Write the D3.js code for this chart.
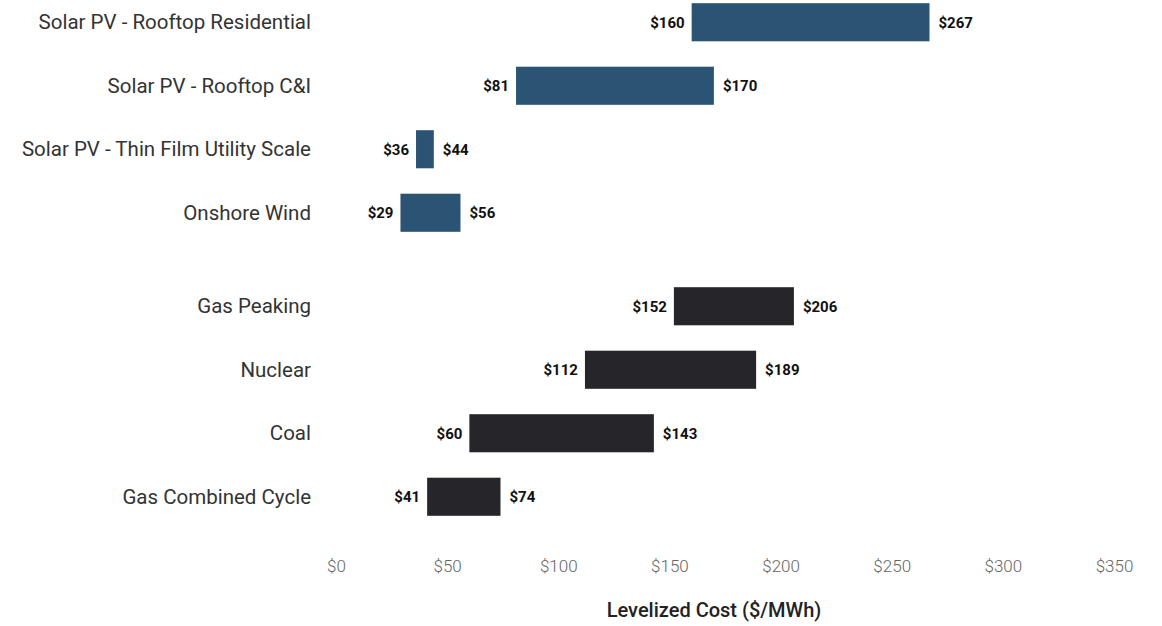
<!DOCTYPE html>
<html>
<head>
<meta charset="utf-8">
<script src="https://cdn.jsdelivr.net/npm/d3@7"></script>
<style>
  body { margin: 0; background: #fff; }
  svg { display: block; }
</style>
</head>
<body>
<script>
// levelized cost ranges, $/MWh
const categories = [
  "Solar PV - Rooftop Residential",
  "Solar PV - Rooftop C&I",
  "Solar PV - Thin Film Utility Scale",
  "Onshore Wind",
  "Gas Peaking",
  "Nuclear",
  "Coal",
  "Gas Combined Cycle"
];
const lowValues = [160, 81, 36, 29, 152, 112, 60, 41];
const highValues = [267, 170, 44, 56, 206, 189, 143, 74];
const groups = ["renewable", "renewable", "renewable", "renewable",
  "conventional", "conventional", "conventional", "conventional"];
const tickValues = [0, 50, 100, 150, 200, 250, 300, 350];

const width = 1162;
const height = 626;
const colors = { renewable: "#2a5374", conventional: "#262529" };

const rows = categories.map((c, i) => ({
  name: c, low: lowValues[i], high: highValues[i], group: groups[i]
}));

const svg = d3.select("body").append("svg")
  .attr("width", width)
  .attr("height", height);

const x = d3.scaleLinear().domain([0, 350]).range([336, 1114]);

// 8 bands, second group pushed down a bit
const y = d3.scaleBand()
  .domain(categories)
  .range([-9.5, 498.5])
  .paddingInner(0.4)
  .paddingOuter(0.2);
const groupGap = 30;
const yPos = (d) => y(d.name) + (d.group === "conventional" ? groupGap : 0);

const g = svg.append("g");

g.selectAll("rect.bar")
  .data(rows)
  .enter()
  .append("rect")
  .attr("class", "bar")
  .attr("x", (d) => x(d.low))
  .attr("y", yPos)
  .attr("width", (d) => x(d.high) - x(d.low))
  .attr("height", y.bandwidth())
  .attr("fill", (d) => colors[d.group]);

// category labels
g.selectAll("text.cat")
  .data(rows)
  .enter()
  .append("text")
  .attr("class", "cat")
  .attr("x", 311)
  .attr("y", (d) => yPos(d) + y.bandwidth() / 2)
  .attr("dy", "0.35em")
  .attr("text-anchor", "end")
  .style("font-family", "Roboto, sans-serif")
  .style("font-size", "20.5px")
  .attr("fill", "#333")
  .text((d) => d.name);

// value labels
g.selectAll("text.low")
  .data(rows)
  .enter()
  .append("text")
  .attr("class", "low")
  .attr("x", (d) => x(d.low) - 7)
  .attr("y", (d) => yPos(d) + y.bandwidth() / 2)
  .attr("dy", "0.35em")
  .attr("text-anchor", "end")
  .style("font-family", "Roboto, sans-serif")
  .style("font-size", "15px")
  .style("font-weight", "bold")
  .attr("fill", "#111")
  .text((d) => "$" + d.low);

g.selectAll("text.high")
  .data(rows)
  .enter()
  .append("text")
  .attr("class", "high")
  .attr("x", (d) => x(d.high) + 9)
  .attr("y", (d) => yPos(d) + y.bandwidth() / 2)
  .attr("dy", "0.35em")
  .attr("text-anchor", "start")
  .style("font-family", "Roboto, sans-serif")
  .style("font-size", "15px")
  .style("font-weight", "bold")
  .attr("fill", "#111")
  .text((d) => "$" + d.high);

// x axis, labels only
const xAxis = d3.axisBottom(x)
  .tickValues(tickValues)
  .tickSize(0)
  .tickPadding(0)
  .tickFormat((d) => "$" + d);

const axisG = svg.append("g")
  .attr("transform", "translate(0,560)")
  .call(xAxis);
axisG.select(".domain").remove();
axisG.selectAll("text")
  .style("font-family", "Roboto, sans-serif")
  .style("font-size", "17px")
  .style("font-weight", "300")
  .attr("fill", "#666");

svg.append("text")
  .attr("x", 714)
  .attr("y", 617)
  .attr("text-anchor", "middle")
  .style("font-family", "Roboto, sans-serif")
  .style("font-size", "20px")
  .style("font-weight", "500")
  .attr("fill", "#222")
  .text("Levelized Cost ($/MWh)");
</script>
</body>
</html>
